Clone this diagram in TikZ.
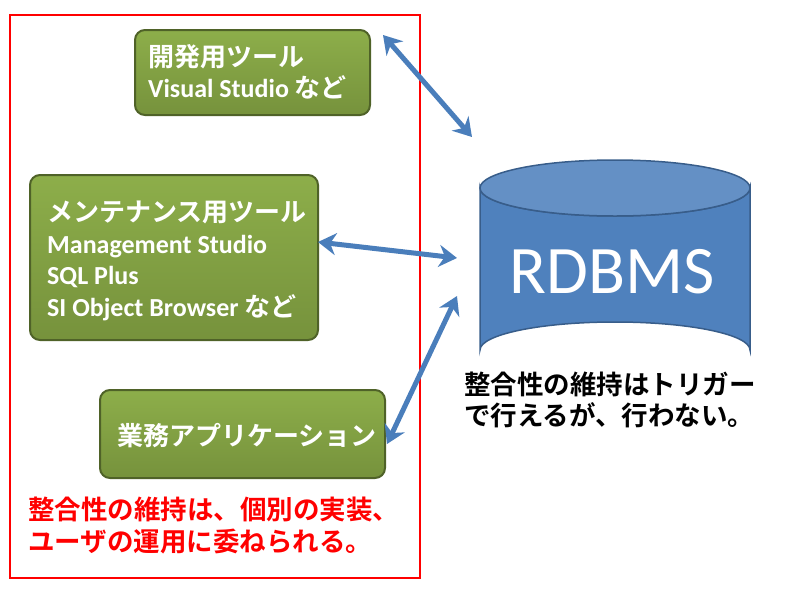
\documentclass[tikz,border=0pt]{standalone}
\usepackage{fontspec}
\setmainfont{Carlito}
\newfontfamily\cjk{Noto Sans CJK JP}[BoldFont={* Bold}]
\usetikzlibrary{arrows.meta}
\definecolor{gf}{HTML}{76923C}
\definecolor{gl}{HTML}{8DAE4A}
\definecolor{gb}{HTML}{4F6228}
\definecolor{bf}{HTML}{4F81BD}
\definecolor{bb}{HTML}{385D8A}
\definecolor{ar}{HTML}{4A7EBB}
\begin{document}
\begin{tikzpicture}[x=1pt,y=-1pt,
 gbox/.style={draw=gb,line width=2pt,rounded corners=10pt,top color=gl,bottom color=gf},
 gtext/.style={anchor=west,text=white,font=\bfseries\fontsize{26}{31.5}\selectfont,align=left,inner sep=0pt},
 arr/.style={draw=ar,line width=5pt,{Stealth[length=18pt,width=22pt]}-{Stealth[length=18pt,width=22pt]}}]
\useasboundingbox (0,0) rectangle (800,600);
\draw[red,line width=1.5pt] (10,15) rectangle (420,578);
\path[gbox] (135,30) rectangle (370,115);
\node[gtext] (t1) at (148,72) {{\cjk\bfseries 開発用ツール}\\Visual Studio {\cjk\bfseries など}};
\path[gbox] (30,175) rectangle (318,340);
\node[gtext] (t2) at (47,261) {{\cjk\bfseries メンテナンス用ツール}\\Management Studio\\SQL Plus\\SI Object Browser {\cjk\bfseries など}};
\path[gbox] (100,390) rectangle (385,478);
\node[gtext] (t3) at (117,436) {\cjk\bfseries 業務アプリケーション};
% cylinder
\path[draw=bb,line width=1.5pt,fill=bf] (480,188) -- (480,350) arc[start angle=180,end angle=360,x radius=135,y radius=28] -- (750,188) arc[start angle=0,end angle=180,x radius=135,y radius=28] -- cycle;
\draw[bb,line width=1.5pt,fill=bf!88!white] (615,188) ellipse[x radius=135,y radius=28];
\node[text=white,font=\fontsize{68}{76}\selectfont] (db) at (612,272) {RDBMS};
\coordinate (c1) at (472,137);
\coordinate (c2) at (457,258);
\coordinate (c3) at (457,296);
\coordinate (a1) at (383,35);
\coordinate (a2) at (318,242);
\coordinate (a3) at (387,444);
\draw[arr] (a1) -- (c1);
\draw[arr] (a2) -- (c2);
\draw[arr] (a3) -- (c3);
\node[anchor=north west,align=left,inner sep=0pt,font=\cjk\bfseries\fontsize{26.5}{31}\selectfont] (n1) at (464,372) {整合性の維持はトリガー\\で行えるが、行わない。};
\node[anchor=north west,align=left,inner sep=0pt,text=red,font=\cjk\bfseries\fontsize{26.5}{32}\selectfont] (n2) at (28,497) {整合性の維持は、個別の実装、\\ユーザの運用に委ねられる。};
\end{tikzpicture}
\end{document}
